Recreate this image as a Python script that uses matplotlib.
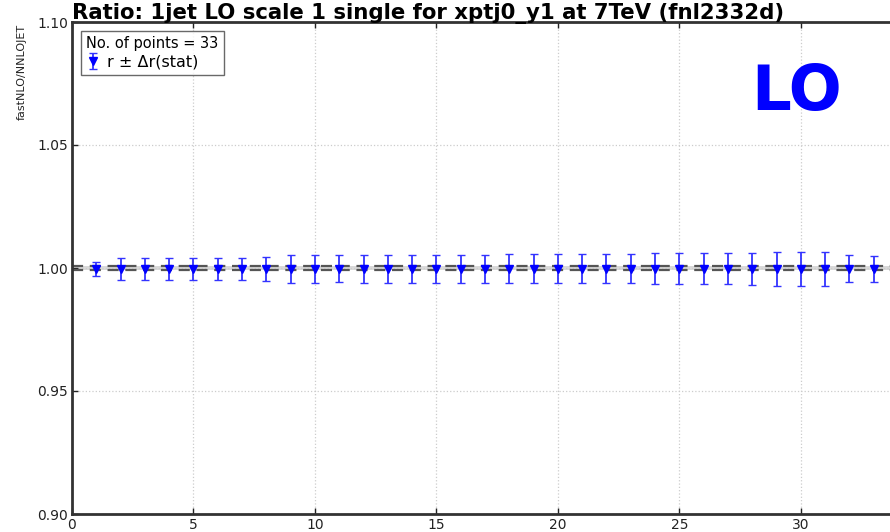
import numpy as np
import matplotlib.pyplot as plt

# ratio fastNLO / NNLOJET per bin, with statistical uncertainty
bins = list(range(1, 34))
ratio = [0.9996, 0.9995, 0.9996, 0.9997, 0.9996, 0.9996, 0.9995, 0.9996, 0.9996, 0.9996,
         0.9997, 0.9997, 0.9996, 0.9996, 0.9997, 0.9997, 0.9996, 0.9997, 0.9997, 0.9997,
         0.9997, 0.9997, 0.9997, 0.9997, 0.9997, 0.9997, 0.9997, 0.9996, 0.9997, 0.9996,
         0.9996, 0.9997, 0.9996]
stat_err = [0.0028, 0.0045, 0.0045, 0.0045, 0.0045, 0.0045, 0.0045, 0.0049, 0.0055, 0.0055,
            0.0055, 0.0056, 0.0056, 0.0056, 0.0057, 0.0057, 0.0058, 0.0058, 0.0059, 0.0059,
            0.0059, 0.0060, 0.0060, 0.0062, 0.0062, 0.0063, 0.0063, 0.0065, 0.0069, 0.0071,
            0.0071, 0.0054, 0.0051]
band_lo, band_hi = 0.999, 1.001

fig = plt.figure(figsize=(8.9, 5.32), dpi=100)
ax = fig.add_axes([72 / 890, 18 / 532, 826 / 890, 492 / 532])

ax.axhspan(band_lo, band_hi, color='#d0d0d0', alpha=0.8, lw=0, zorder=1)
ax.axhline(band_lo, color='#555555', lw=1.6, dashes=(5, 3), zorder=2)
ax.axhline(band_hi, color='#555555', lw=1.6, dashes=(5, 3), zorder=2)

ax.errorbar(bins, ratio, yerr=stat_err, fmt='v', color='blue', ms=5.5,
            ecolor='#3333ff', elinewidth=1.3, capsize=3, capthick=1.0,
            label='r ± Δr(stat)', zorder=3)

ax.set_xlim(0, 34)
ax.set_ylim(0.90, 1.10)
ax.set_xticks([0, 5, 10, 15, 20, 25, 30])
ax.set_yticks([0.90, 0.95, 1.00, 1.05, 1.10])
ax.set_yticklabels(['0.90', '0.95', '1.00', '1.05', '1.10'])
ax.tick_params(direction='in', length=4, width=1, labelsize=10, colors='#222222',
               pad=3, top=True, right=True)
ax.grid(True, ls=':', color='#cccccc', lw=0.9)
for s in ax.spines.values():
    s.set_linewidth(2)
    s.set_color('#333333')

ax.set_title('Ratio: 1jet LO scale 1 single for xptj0_y1 at 7TeV (fnl2332d)',
             loc='left', fontsize=15.3, fontweight='bold', pad=2)
fig.text(22 / 890, 1 - 72 / 532, 'fastNLO/NNLOJET', rotation=90, fontsize=8,
         ha='center', va='center', color='#222222')

leg = ax.legend(loc='upper left', title='No. of points = 33', fontsize=11.5,
                title_fontsize=10.5, fancybox=False, edgecolor='#444444',
                borderaxespad=0.55, handlelength=0.8, handletextpad=0.5,
                borderpad=0.35, labelspacing=0.2)
leg._legend_box.align = 'left'
leg.get_frame().set_linewidth(1.0)

ax.text((842 - 72) / 826, 0.856, 'LO', transform=ax.transAxes,
        fontsize=45, fontweight='bold', color='blue', ha='right', va='center')

fig.savefig('out.png', dpi=100)
